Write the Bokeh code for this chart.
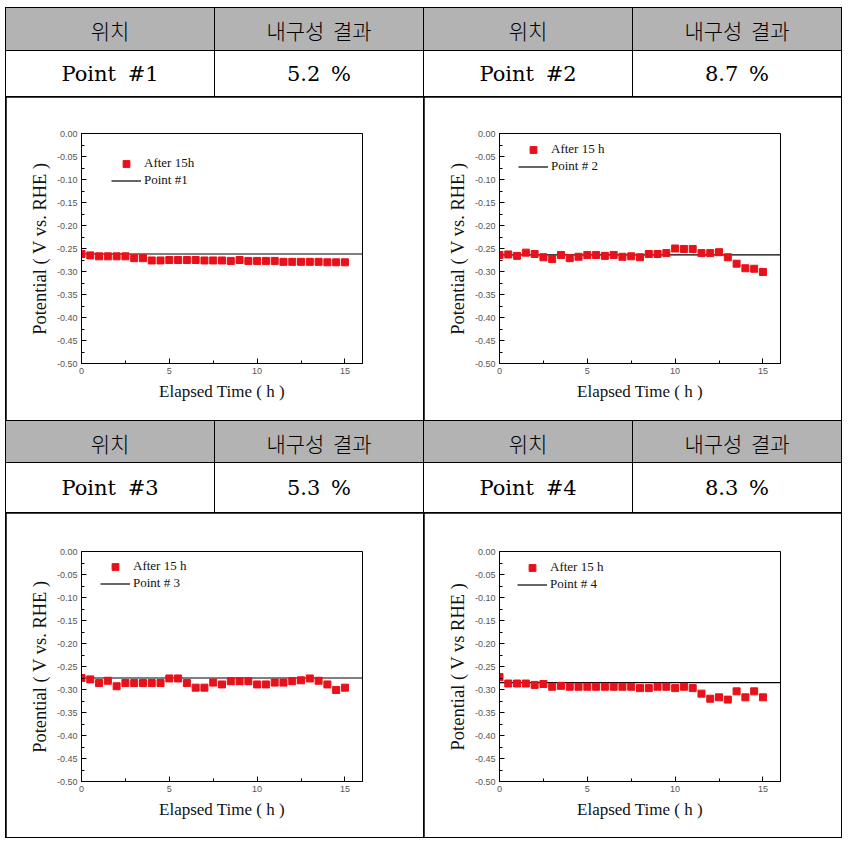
from bokeh.plotting import figure
from bokeh.layouts import row, column
from bokeh.models import Div, FixedTicker, PrintfTickFormatter, Legend, LegendItem
from bokeh.embed import file_html
from bokeh.resources import INLINE

# ---------------- data ----------------
header_labels = ["위치", "내구성 결과"]
point_labels = ["Point #1", "Point #2", "Point #3", "Point #4"]
durability = ["5.2 %", "8.7 %", "5.3 %", "8.3 %"]
marker_labels = ["After 15h", "After 15 h", "After 15 h", "After 15 h"]
line_labels = ["Point #1", "Point # 2", "Point # 3", "Point # 4"]
y_axis_labels = ["Potential ( V vs. RHE )", "Potential ( V vs. RHE )",
                 "Potential ( V vs. RHE )", "Potential ( V vs RHE )"]
x_axis_label = "Elapsed Time ( h )"

elapsed_h = [0, 0.5, 1, 1.5, 2, 2.5, 3, 3.5, 4, 4.5, 5, 5.5, 6, 6.5, 7, 7.5,
             8, 8.5, 9, 9.5, 10, 10.5, 11, 11.5, 12, 12.5, 13, 13.5, 14, 14.5, 15]

potential_p1 = [-0.262, -0.265, -0.267, -0.267, -0.267, -0.267, -0.271, -0.271,
                -0.276, -0.276, -0.275, -0.275, -0.275, -0.275, -0.276, -0.276,
                -0.276, -0.277, -0.275, -0.277, -0.277, -0.277, -0.277, -0.279,
                -0.279, -0.279, -0.279, -0.279, -0.280, -0.280, -0.280]
potential_p2 = [-0.264, -0.263, -0.266, -0.259, -0.262, -0.269, -0.273, -0.264,
                -0.271, -0.268, -0.264, -0.264, -0.266, -0.264, -0.268, -0.267,
                -0.269, -0.262, -0.262, -0.260, -0.250, -0.251, -0.251, -0.260,
                -0.260, -0.258, -0.269, -0.283, -0.293, -0.294, -0.301]
potential_p3 = [-0.275, -0.278, -0.286, -0.281, -0.293, -0.286, -0.286, -0.286,
                -0.286, -0.286, -0.276, -0.276, -0.286, -0.296, -0.296, -0.285,
                -0.289, -0.282, -0.282, -0.282, -0.289, -0.289, -0.285, -0.285,
                -0.282, -0.280, -0.276, -0.281, -0.289, -0.301, -0.296]
potential_p4 = [-0.273, -0.287, -0.287, -0.287, -0.290, -0.288, -0.294, -0.292,
                -0.294, -0.294, -0.294, -0.294, -0.294, -0.294, -0.294, -0.294,
                -0.297, -0.297, -0.294, -0.294, -0.297, -0.294, -0.297, -0.309,
                -0.320, -0.317, -0.322, -0.304, -0.317, -0.304, -0.317]
series = [potential_p1, potential_p2, potential_p3, potential_p4]
reference_levels = [-0.262, -0.264, -0.275, -0.285]

x_limits = [0, 16]
y_limits = [-0.5, 0.0]
x_ticks = [0, 5, 10, 15]
x_minor_ticks = [2.5, 7.5, 12.5]
y_ticks = [0.0, -0.05, -0.10, -0.15, -0.20, -0.25, -0.30, -0.35, -0.40, -0.45, -0.50]
y_minor_ticks = [-0.025, -0.075, -0.125, -0.175, -0.225, -0.275, -0.325,
                 -0.375, -0.425, -0.475]

# ---------------- style ----------------
RED = "#e8101a"
GRAY = "#b3b3b3"
COL_W = 208
PLOT_W = 2 * COL_W + 1
section_heights = [(42, 45, 323, 36), (41, 49, 324, 38)]
legend_offsets = [(30, 21.5), (19, 7.5), (19, 6.5), (18, 7.5)]


def cell(text, w, h, bg, font, size, extra=""):
    html = (f'<div style="box-sizing:border-box;width:{w}px;height:{h}px;display:flex;'
            f'align-items:center;justify-content:center;background:{bg};'
            f'font-family:{font};font-size:{size}px;color:#000;{extra}">{text}</div>')
    return Div(text=html, width=w, height=h, margin=0, styles={"background-color": bg})


def make_plot(i, h, top):
    frame_w, frame_h = 281, 230
    p = figure(width=PLOT_W, height=h, x_range=tuple(x_limits), y_range=tuple(y_limits),
               toolbar_location=None, tools="", output_backend="svg",
               min_border_left=75, min_border_right=PLOT_W - 75 - frame_w,
               min_border_top=top, min_border_bottom=h - top - frame_h)
    p.grid.visible = False
    p.outline_line_color = "black"
    p.outline_line_alpha = 1.0
    p.background_fill_color = "white"
    p.border_fill_color = "white"

    ln = p.line(x_limits, [reference_levels[i]] * 2, line_color="black", line_width=1.2)
    sc = p.scatter(elapsed_h, series[i], marker="square", size=7,
                   fill_color=RED, line_color=RED)

    for ax in (p.xaxis[0], p.yaxis[0]):
        ax.axis_line_color = "black"
        ax.major_tick_in = 5
        ax.major_tick_out = 0
        ax.minor_tick_in = 3
        ax.minor_tick_out = 0
        ax.major_tick_line_color = "black"
        ax.minor_tick_line_color = "black"
        ax.major_label_text_font = "Liberation Sans"
        ax.major_label_text_font_size = "9px"
        ax.major_label_text_color = "#555555"
        ax.major_label_standoff = 4
        ax.axis_label_text_font = "Liberation Serif"
        ax.axis_label_text_font_style = "normal"
        ax.axis_label_text_color = "#111111"
    p.xaxis[0].axis_label_text_font_size = "17px"
    p.xaxis[0].axis_label_standoff = 5
    p.yaxis[0].axis_label_text_font_size = "18.5px"
    p.yaxis[0].axis_label_standoff = 4

    p.xaxis[0].ticker = FixedTicker(ticks=x_ticks, minor_ticks=x_minor_ticks)
    p.yaxis[0].ticker = FixedTicker(ticks=y_ticks, minor_ticks=y_minor_ticks)
    p.yaxis[0].formatter = PrintfTickFormatter(format="%.2f")
    p.xaxis[0].axis_label = x_axis_label
    p.yaxis[0].axis_label = y_axis_labels[i]

    lx, ltop = legend_offsets[i]
    glyph_h = 17
    legend = Legend(items=[LegendItem(label=marker_labels[i], renderers=[sc]),
                           LegendItem(label=line_labels[i], renderers=[ln])],
                    location=(lx, frame_h - ltop - 2 * glyph_h),
                    glyph_width=30, glyph_height=glyph_h, label_height=glyph_h,
                    label_standoff=3, spacing=0, padding=0, margin=0,
                    border_line_color=None, background_fill_alpha=0,
                    label_text_font="Liberation Serif", label_text_font_size="13px",
                    label_text_color="#111111")
    p.add_layout(legend)
    return p


children = []
for s, (hh, vh, ph, top) in enumerate(section_heights):
    hdr = row([cell(header_labels[k % 2], COL_W, hh, GRAY, "'Noto Sans CJK KR'", 21,
                    "padding-top:2px;font-weight:300;word-spacing:4px;") for k in range(4)],
              spacing=1)
    vals = []
    for k in range(2):
        idx = 2 * s + k
        vals.append(cell(point_labels[idx], COL_W, vh, "white", "'DejaVu Serif'", 21,
                         "word-spacing:5px;"))
        vals.append(cell(durability[idx], COL_W, vh, "white", "'DejaVu Serif'", 21,
                         "word-spacing:4px;"))
    vrow = row(vals, spacing=1)
    prow = row([make_plot(2 * s, ph, top), make_plot(2 * s + 1, ph, top)], spacing=1)
    children += [hdr, vrow, prow]

layout = column(children, spacing=1, margin=(7, 0, 0, 5),
                styles={"background-color": "black", "padding": "1px"})

open("out.html", "w").write(file_html(layout, INLINE, "chart"))
